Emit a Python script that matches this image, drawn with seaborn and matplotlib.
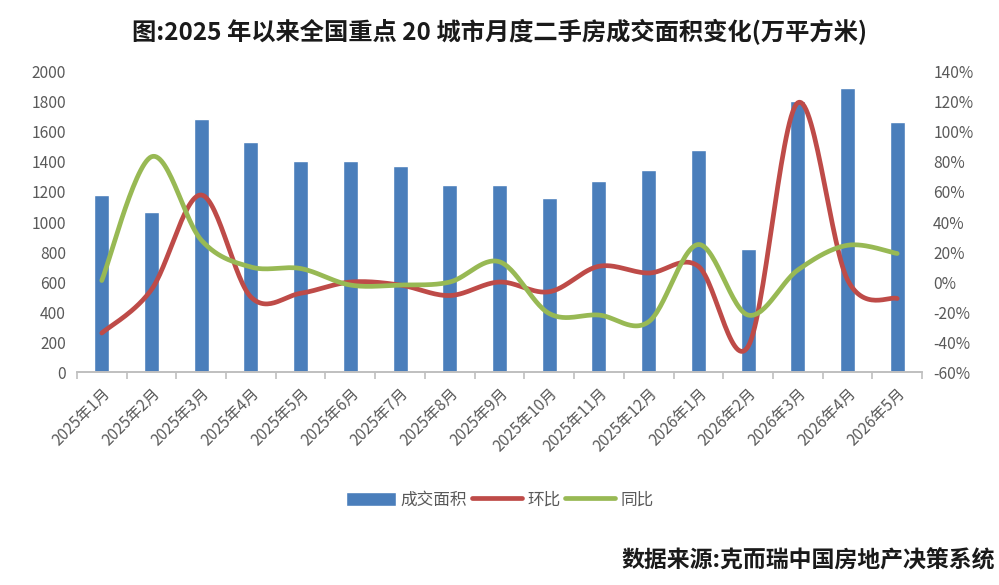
import numpy as np
import pandas as pd
import seaborn as sns
import matplotlib
matplotlib.use('Agg')
from matplotlib import pyplot as plt
from matplotlib.patches import Patch
from matplotlib.lines import Line2D
from matplotlib.ticker import FuncFormatter, MultipleLocator

months = ['2025年1月', '2025年2月', '2025年3月', '2025年4月', '2025年5月', '2025年6月',
          '2025年7月', '2025年8月', '2025年9月', '2025年10月', '2025年11月', '2025年12月',
          '2026年1月', '2026年2月', '2026年3月', '2026年4月', '2026年5月']
area = [1180, 1065, 1685, 1533, 1409, 1409, 1373, 1249, 1249, 1158, 1271, 1349,
        1480, 820, 1807, 1891, 1669]
mom = [-34, -5, 58, -10, -7.5, 0, -2, -9, 0, -6.5, 10.5, 6, 10.5, -43, 119.5, 1.5, -11]
yoy = [1, 83.5, 28, 10, 9, -2, -2, 0, 13.5, -21, -22, -26.5, 25, -22, 8, 24.5, 19]

BLUE = '#4A7EBB'
RED = '#BE4B48'
GREEN = '#98B954'
GRAY = '#595959'


def smooth(vals, n=30):
    # excel-style smoothed line: cubic bezier through every point
    p = np.asarray(vals, dtype=float)
    x = np.arange(len(p), dtype=float)
    xs, ys = [], []
    for i in range(len(p) - 1):
        p0 = p[i - 1] if i > 0 else p[i]
        p3 = p[i + 2] if i + 2 < len(p) else p[i + 1]
        x0 = x[i - 1] if i > 0 else x[i]
        x3 = x[i + 2] if i + 2 < len(p) else x[i + 1]
        c1y = p[i] + (p[i + 1] - p0) / 6
        c2y = p[i + 1] - (p3 - p[i]) / 6
        c1x = x[i] + (x[i + 1] - x0) / 6
        c2x = x[i + 1] - (x3 - x[i]) / 6
        t = np.linspace(0, 1, n, endpoint=False)
        b = [(1 - t) ** 3, 3 * (1 - t) ** 2 * t, 3 * (1 - t) * t ** 2, t ** 3]
        xs.append(b[0] * x[i] + b[1] * c1x + b[2] * c2x + b[3] * x[i + 1])
        ys.append(b[0] * p[i] + b[1] * c1y + b[2] * c2y + b[3] * p[i + 1])
    xs.append([x[-1]])
    ys.append([p[-1]])
    return np.concatenate(xs), np.concatenate(ys)


sns.set_theme(style='white')
plt.rcParams['font.family'] = ['Noto Sans CJK SC', 'DejaVu Sans']

fig = plt.figure(figsize=(9.99, 5.85), dpi=100)
ax = fig.add_axes([0.077, 0.364, 0.846, 0.513])

df = pd.DataFrame({'month': months, 'area': area})
sns.barplot(data=df, x='month', y='area', color=BLUE, width=0.3, saturation=1, ax=ax)
ax.set_xlim(-0.5, len(months) - 0.5)
ax.set_ylim(0, 2000)
ax.yaxis.set_major_locator(MultipleLocator(200))
ax.set_xlabel('')
ax.set_ylabel('')

ax2 = ax.twinx()
mx, my = smooth(mom)
gx, gy = smooth(yoy)
sns.lineplot(x=mx, y=my, ax=ax2, color=RED, linewidth=3.4, sort=False)
sns.lineplot(x=gx, y=gy, ax=ax2, color=GREEN, linewidth=3.4, sort=False)
ax2.set_ylim(-60, 140)
ax2.yaxis.set_major_locator(MultipleLocator(20))
ax2.yaxis.set_major_formatter(FuncFormatter(lambda v, _: f'{v:.0f}%'))
ax2.set_xlim(-0.5, len(months) - 0.5)

for a in (ax, ax2):
    for s in ('top', 'left', 'right'):
        a.spines[s].set_visible(False)
    a.spines['bottom'].set_color('#BFBFBF')
    a.spines['bottom'].set_linewidth(1.2)
    a.tick_params(axis='y', length=0, labelsize=11.2, colors=GRAY, pad=8)

ax.set_xticks(range(len(months)))
ax.set_xticklabels(months, rotation=45, ha='right', rotation_mode='anchor',
                   fontsize=11.2, color=GRAY)
ax.set_xticks(np.arange(-0.5, len(months)), minor=True)
ax.tick_params(axis='x', which='major', length=0, pad=9)
ax.tick_params(axis='x', which='minor', length=5, width=1.2, color='#BFBFBF', direction='out', bottom=True)

handles = [Patch(facecolor=BLUE, label='成交面积'),
           Line2D([], [], color=RED, linewidth=3.4, label='环比'),
           Line2D([], [], color=GREEN, linewidth=3.4, label='同比')]
leg = fig.legend(handles=handles, loc='center', bbox_to_anchor=(0.5, 0.145), ncol=3,
                 frameon=False, fontsize=12, handlelength=3.0, handleheight=0.9,
                 columnspacing=0.3, handletextpad=0.3)
for t in leg.get_texts():
    t.set_color(GRAY)

fig.text(0.5, 0.945, '图:2025 年以来全国重点 20 城市月度二手房成交面积变化(万平方米)',
         ha='center', va='center', fontsize=17.5, fontweight='bold', color='#1a1a1a')
fig.text(0.996, 0.022, '数据来源:克而瑞中国房地产决策系统', ha='right', va='bottom',
         fontsize=16.5, fontweight='bold', color='#1a1a1a')

fig.savefig('out.png', dpi=100)
